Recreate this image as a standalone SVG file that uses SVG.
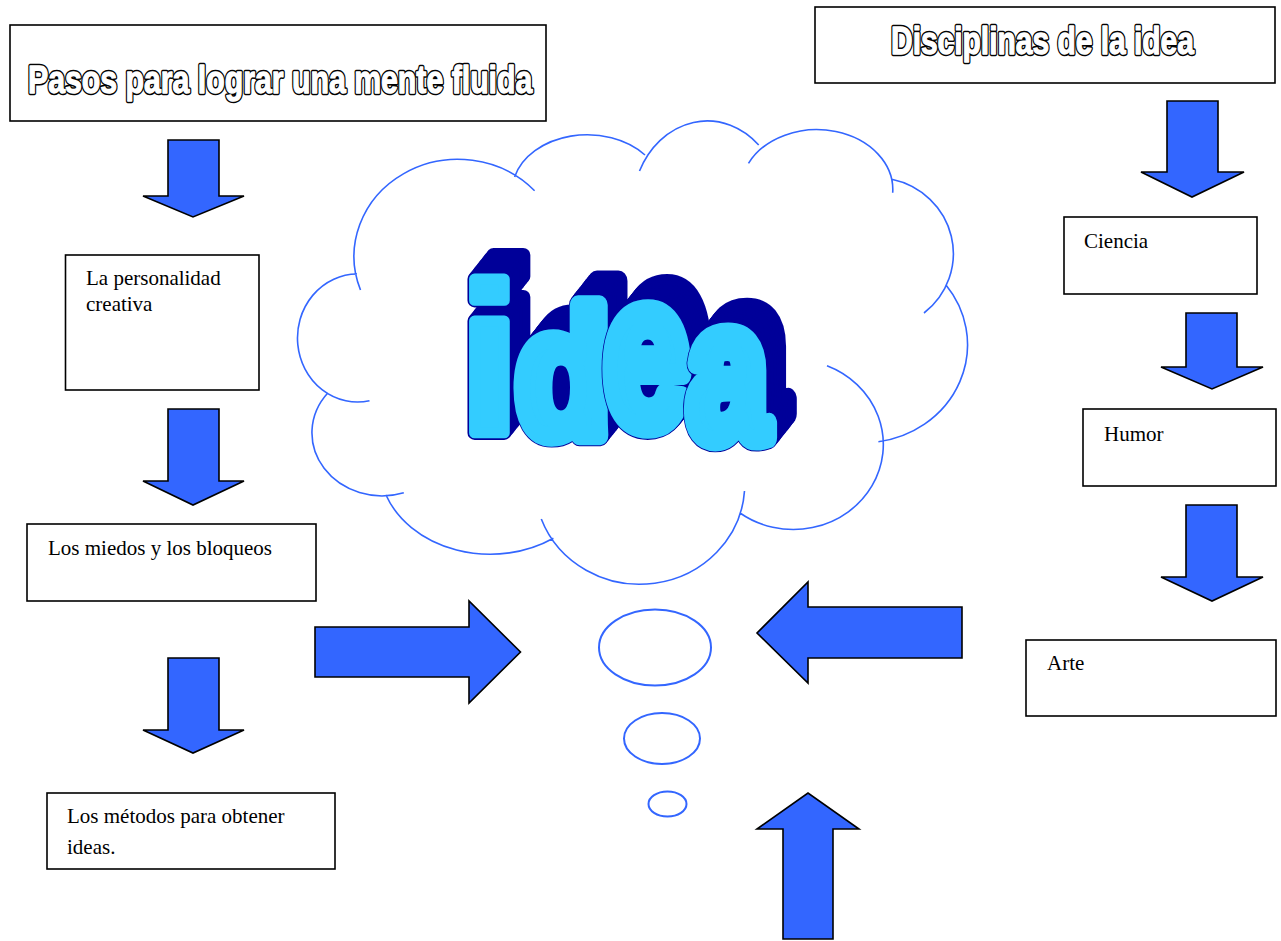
<svg xmlns="http://www.w3.org/2000/svg" xmlns:xlink="http://www.w3.org/1999/xlink" width="1281" height="941" viewBox="0 0 1281 941">
  <style>
    .box { fill: #ffffff; stroke: #000000; stroke-width: 1.6; }
    .label { font-family: "Liberation Serif", "Times New Roman", serif; font-size: 21px; fill: #000000; }
    .title { font-family: "Liberation Sans", Arial, sans-serif; font-weight: bold; font-size: 39px; stroke-linejoin: round; }
    .title-rim { fill: #000000; stroke: #000000; stroke-width: 4.4; }
    .title-face { fill: #ffffff; stroke: #ffffff; stroke-width: 1.3; }
    .heading { opacity: 0.99; }
    .arrow { fill: #3366ff; stroke: #000000; stroke-width: 1.6; stroke-linejoin: miter; }
    .cloud { fill: none; stroke: #3366ff; stroke-width: 1.6; }
    .bubble { fill: #ffffff; stroke: #3366ff; stroke-width: 2; }
    .glyph { font-family: "Liberation Sans", Arial, sans-serif; font-weight: bold; font-size: 100px; stroke-linejoin: round; }
  </style>
  <defs>
    <!-- heavy letters: "fat" = body plus outline rim, "body" = light face -->
    <text id="fi" class="glyph" stroke-width="6.6" transform="translate(459.5 432.6) scale(2.16 2.115)">i</text>
    <text id="fd" class="glyph" stroke-width="11.8" transform="translate(515.4 435.7) scale(1.55 1.8)">d</text>
    <text id="fe" class="glyph" stroke-width="11" transform="translate(604.1 426.2) scale(1.53 2.16)">e</text>
    <text id="fa" class="glyph" stroke-width="11.6" transform="translate(687.2 438.5) scale(1.46 1.96)">a</text>
    <text id="bi" class="glyph" stroke-width="5.1" transform="translate(459.5 432.6) scale(2.16 2.115)">i</text>
    <text id="bd" class="glyph" stroke-width="10.8" transform="translate(515.4 435.7) scale(1.55 1.8)">d</text>
    <text id="be" class="glyph" stroke-width="10" transform="translate(604.1 426.2) scale(1.53 2.16)">e</text>
    <text id="ba" class="glyph" stroke-width="10.6" transform="translate(687.2 438.5) scale(1.46 1.96)">a</text>
    <g id="fat">
      <use xlink:href="#fi"/>
      <use xlink:href="#fd"/>
      <use xlink:href="#fe"/>
      <use xlink:href="#fa"/>
    </g>
    <!-- hollow heading texts -->
    <text id="t-pasos" class="title" transform="translate(28 93) scale(0.776 1)">Pasos para lograr una mente fluida</text>
    <text id="t-disc" class="title" transform="translate(891 54) scale(0.768 1)">Disciplinas de la idea</text>
  </defs>
  <rect width="1281" height="941" fill="#ffffff"/>

  <!-- thought cloud -->
  <g id="cloud">
    <path class="cloud" d="M 369.5 400.7 A 60 64 0 1 1 357 274
      M 360.5 290 A 104 97 0 0 1 534.6 190.7
      M 514.6 177 A 75 56 0 0 1 645 155
      M 639.5 171 A 75 88 0 0 1 758.7 145
      M 748.5 163.3 A 76 60 0 0 1 892.7 192.7
      M 891.8 179.3 A 78 76 0 0 1 924 313
      M 946 285 A 104 98 0 0 1 878.4 441.7
      M 827 365.7 A 90 85 0 1 1 740 513
      M 744.5 491 A 105 100 0 0 1 541.3 519
      M 553.4 538.3 A 111 90 0 0 1 386 495
      M 403.8 492.7 A 70 63 0 0 1 328 392.7"/>
    <ellipse class="bubble" cx="655" cy="647.5" rx="56" ry="38"/>
    <ellipse class="bubble" cx="662" cy="738.5" rx="38" ry="25.5"/>
    <ellipse class="bubble" cx="667.5" cy="804" rx="19" ry="12.5"/>
  </g>

  <!-- extruded word "idea" -->
  <g id="idea">
    <g fill="#000099" stroke="#000099">
      <use xlink:href="#fat" x="19" y="-24"/>
      <use xlink:href="#fat" x="17.4" y="-22"/>
      <use xlink:href="#fat" x="15.8" y="-20"/>
      <use xlink:href="#fat" x="14.2" y="-18"/>
      <use xlink:href="#fat" x="12.7" y="-16"/>
      <use xlink:href="#fat" x="11.1" y="-14"/>
      <use xlink:href="#fat" x="9.5" y="-12"/>
      <use xlink:href="#fat" x="7.9" y="-10"/>
      <use xlink:href="#fat" x="6.3" y="-8"/>
      <use xlink:href="#fat" x="4.7" y="-6"/>
      <use xlink:href="#fat" x="3.2" y="-4"/>
      <use xlink:href="#fat" x="1.6" y="-2"/>
    </g>
    <use xlink:href="#fi" fill="#000099" stroke="#000099"/>
    <use xlink:href="#bi" fill="#33ccff" stroke="#33ccff"/>
    <use xlink:href="#fd" fill="#000099" stroke="#000099"/>
    <use xlink:href="#bd" fill="#33ccff" stroke="#33ccff"/>
    <use xlink:href="#fe" fill="#000099" stroke="#000099"/>
    <use xlink:href="#be" fill="#33ccff" stroke="#33ccff"/>
    <use xlink:href="#fa" fill="#000099" stroke="#000099"/>
    <use xlink:href="#ba" fill="#33ccff" stroke="#33ccff"/>
  </g>

  <!-- left column -->
  <g id="node-pasos">
    <rect class="box" x="10" y="25" width="536" height="96"/>
    <g class="heading">
      <use xlink:href="#t-pasos" class="title-rim"/>
      <use xlink:href="#t-pasos" class="title-face"/>
    </g>
  </g>
  <g id="node-personalidad">
    <rect class="box" x="65.5" y="255" width="193.5" height="135"/>
    <text class="label" x="86" y="285">La personalidad</text>
    <text class="label" x="86" y="311">creativa</text>
  </g>
  <g id="node-miedos">
    <rect class="box" x="27" y="524" width="289" height="77"/>
    <text class="label" x="48" y="555">Los miedos y los bloqueos</text>
  </g>
  <g id="node-metodos">
    <rect class="box" x="47" y="793" width="288" height="76"/>
    <text class="label" x="67" y="823">Los métodos para obtener</text>
    <text class="label" x="67" y="854">ideas.</text>
  </g>

  <!-- right column -->
  <g id="node-disciplinas">
    <rect class="box" x="815" y="7" width="460" height="76"/>
    <g class="heading">
      <use xlink:href="#t-disc" class="title-rim"/>
      <use xlink:href="#t-disc" class="title-face"/>
    </g>
  </g>
  <g id="node-ciencia">
    <rect class="box" x="1064" y="217" width="193" height="77"/>
    <text class="label" x="1084" y="248">Ciencia</text>
  </g>
  <g id="node-humor">
    <rect class="box" x="1083" y="409" width="193" height="77"/>
    <text class="label" x="1104" y="441">Humor</text>
  </g>
  <g id="node-arte">
    <rect class="box" x="1026" y="640" width="250" height="76"/>
    <text class="label" x="1047" y="670">Arte</text>
  </g>

  <!-- block arrows -->
  <g id="connectors">
    <polygon class="arrow" points="168,140 219,140 219,196 244,196 193,217 143,196 168,196"/>
    <polygon class="arrow" points="168,409 219,409 219,481 244,481 193,505 143,481 168,481"/>
    <polygon class="arrow" points="168,658 219,658 219,730 244,730 193,753 143,730 168,730"/>
    <polygon class="arrow" points="1167,101 1218,101 1218,172 1244,172 1192,197 1141,172 1167,172"/>
    <polygon class="arrow" points="1186,313 1237,313 1237,367 1263,367 1212,389 1161,367 1186,367"/>
    <polygon class="arrow" points="1186,505 1237,505 1237,577 1263,577 1212,601 1161,577 1186,577"/>
    <polygon class="arrow" points="315,627 469,627 469,601 520.5,652 469,703 469,677 315,677"/>
    <polygon class="arrow" points="962,607 808,607 808,582 757,633 808,683 808,658 962,658"/>
    <polygon class="arrow" points="783,939 783,829 757,829 808,793 859,829 833,829 833,939"/>
  </g>
</svg>
